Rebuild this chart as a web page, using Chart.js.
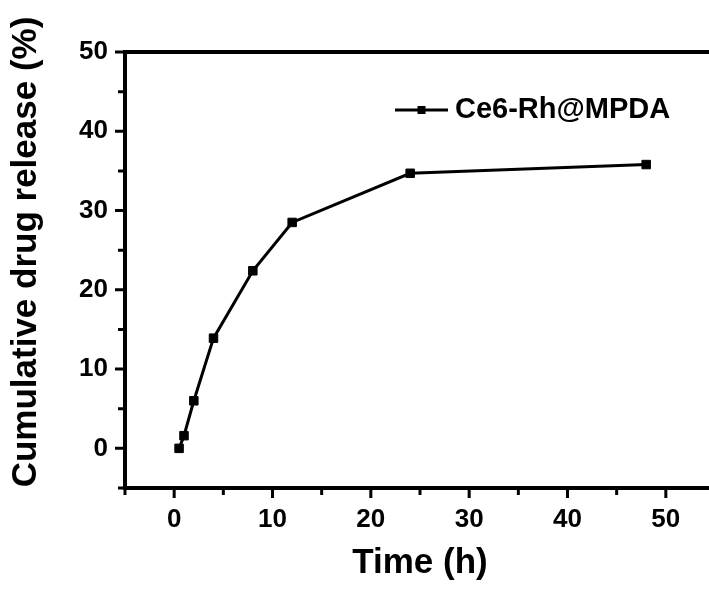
<!DOCTYPE html>
<html>
<head>
<meta charset="utf-8">
<script src="https://cdn.jsdelivr.net/npm/chart.js@4.4.1/dist/chart.umd.min.js"></script>
<style>
  html, body { margin: 0; padding: 0; background: #fff; overflow: hidden; }
  #wrap { width: 730px; height: 592px; }
</style>
</head>
<body>
<div id="wrap"><canvas id="c" width="730" height="592"></canvas></div>
<script>
// ---- data ----
const timeHours = [0.5, 1, 2, 4, 8, 12, 24, 48];
const releasePct = [0, 1.6, 6.0, 13.9, 22.4, 28.5, 34.7, 35.8];
const seriesName = 'Ce6-Rh@MPDA';
const xTickValues = [0, 10, 20, 30, 40, 50];
const yTickValues = [0, 10, 20, 30, 40, 50];
const xMinorTicks = [-5, 5, 15, 25, 35, 45, 55];
const yMinorTicks = [-5, 5, 15, 25, 35, 45];
const xTitle = 'Time (h)';
const yTitle = 'Cumulative drug release (%)';

const FONT = '"Liberation Sans", Arial, sans-serif';

const framePlugin = {
  id: 'frame',
  afterDraw(chart) {
    const ctx = chart.ctx;
    const a = chart.chartArea;
    const xs = chart.scales.x, ys = chart.scales.y;
    ctx.save();
    ctx.strokeStyle = '#000';
    ctx.lineWidth = 4;
    ctx.lineCap = 'square';
    ctx.strokeRect(a.left, a.top, a.right - a.left, a.bottom - a.top);
    ctx.lineCap = 'butt';
    ctx.lineWidth = 3;
    // major ticks
    ctx.beginPath();
    xTickValues.forEach(v => { const p = xs.getPixelForValue(v); ctx.moveTo(p, a.bottom); ctx.lineTo(p, a.bottom + 10); });
    yTickValues.forEach(v => { const p = ys.getPixelForValue(v); ctx.moveTo(a.left, p); ctx.lineTo(a.left - 10, p); });
    // minor ticks
    xMinorTicks.forEach(v => { const p = xs.getPixelForValue(v); ctx.moveTo(p, a.bottom); ctx.lineTo(p, a.bottom + 7); });
    yMinorTicks.forEach(v => { const p = ys.getPixelForValue(v); ctx.moveTo(a.left, p); ctx.lineTo(a.left - 7, p); });
    ctx.stroke();

    // y title
    ctx.fillStyle = '#000';
    ctx.font = 'bold 35px ' + FONT;
    ctx.textAlign = 'center';
    ctx.textBaseline = 'middle';
    ctx.translate(26, 252);
    ctx.rotate(-Math.PI / 2);
    ctx.fillText(yTitle, 0, 0);
    ctx.restore();

    // legend
    ctx.save();
    ctx.strokeStyle = '#000';
    ctx.lineWidth = 3;
    ctx.beginPath();
    ctx.moveTo(395, 110); ctx.lineTo(448, 110);
    ctx.stroke();
    ctx.fillStyle = '#000';
    ctx.fillRect(421.5 - 4, 110 - 4, 8, 8);
    ctx.font = 'bold 29px ' + FONT;
    ctx.textAlign = 'left';
    ctx.textBaseline = 'middle';
    ctx.fillText(seriesName, 455, 110);
    ctx.restore();
  }
};

new Chart(document.getElementById('c'), {
  type: 'line',
  data: {
    datasets: [{
      label: seriesName,
      data: timeHours.map((t, i) => ({ x: t, y: releasePct[i] })),
      borderColor: '#000',
      backgroundColor: '#000',
      borderWidth: 3,
      pointStyle: 'rect',
      pointRadius: 6,
      pointBorderWidth: 1,
      pointHoverRadius: 6,
      tension: 0,
      fill: false
    }]
  },
  options: {
    responsive: false,
    animation: false,
    devicePixelRatio: 1,
    layout: { padding: { top: 52, right: 15, left: 0, bottom: 0 } },
    plugins: { legend: { display: false }, tooltip: { enabled: false } },
    scales: {
      x: {
        type: 'linear',
        min: -5, max: 55,
        afterBuildTicks: s => { s.ticks = xTickValues.map(v => ({ value: v })); },
        afterFit: s => { s.height = 104; },
        grid: { display: false, drawTicks: false },
        border: { display: false },
        ticks: { color: '#000', padding: 16, maxRotation: 0, font: { family: FONT, size: 26, weight: 'bold' } },
        title: { display: true, text: xTitle, color: '#000', padding: { top: 0, bottom: 8 }, font: { family: FONT, size: 35, weight: 'bold' } }
      },
      y: {
        type: 'linear',
        min: -5, max: 50,
        afterBuildTicks: s => { s.ticks = yTickValues.map(v => ({ value: v })); },
        afterFit: s => { s.width = 125; },
        grid: { display: false, drawTicks: false },
        border: { display: false },
        ticks: { color: '#000', padding: 17, font: { family: FONT, size: 26, weight: 'bold' } }
      }
    }
  },
  plugins: [framePlugin]
});
</script>
</body>
</html>
